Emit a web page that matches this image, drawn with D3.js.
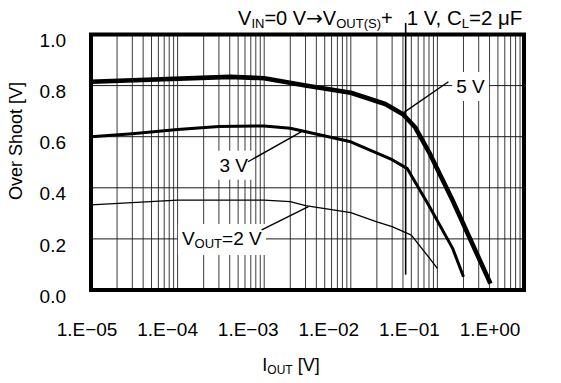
<!DOCTYPE html>
<html>
<head>
<meta charset="utf-8">
<script src="https://cdn.jsdelivr.net/npm/d3@7"></script>
<style>
  body { margin: 0; background: #fff; }
  text { font-family: Arial, "Liberation Sans", sans-serif; fill: #000; }
</style>
</head>
<body>
<svg id="chart" width="561" height="383"></svg>
<script>
// Output current ticks (log axis) and their printed labels
const currentTicks = [1e-5, 1e-4, 1e-3, 1e-2, 1e-1, 1];
const currentTickLabels = ["1.E\u221205", "1.E\u221204", "1.E\u221203", "1.E\u221202", "1.E\u221201", "1.E+00"];
const overshootTicks = [0, 0.2, 0.4, 0.6, 0.8, 1.0];
const overshootTickLabels = ["0.0", "0.2", "0.4", "0.6", "0.8", "1.0"];

// VOUT = 5 V
const current5V   = [1e-5, 4e-4, 1e-3, 3e-3, 1e-2, 2.5e-2, 4e-2, 5.5e-2, 8e-2, 0.15, 0.41];
const overshoot5V = [0.815, 0.834, 0.829, 0.80, 0.772, 0.728, 0.688, 0.638, 0.54, 0.35, 0.025];
// VOUT = 3 V
const current3V   = [1e-5, 3e-5, 1e-4, 3e-4, 1e-3, 2e-3, 1e-2, 3e-2, 4.5e-2, 8e-2, 0.15, 0.2];
const overshoot3V = [0.60, 0.612, 0.628, 0.64, 0.642, 0.633, 0.58, 0.51, 0.475, 0.33, 0.163, 0.052];
// VOUT = 2 V
const current2V   = [1e-5, 1e-4, 1e-3, 2e-3, 3e-3, 1e-2, 2e-2, 3e-2, 5e-2, 0.1];
const overshoot2V = [0.333, 0.352, 0.352, 0.346, 0.33, 0.303, 0.267, 0.248, 0.215, 0.085];

// Cursor line current
const cursorCurrent = [0.043];

const svg = d3.select("#chart");
const plotLeft = 91, plotRight = 524, plotTop = 34.5, plotBottom = 290;
const fs = 19, subFs = 13;

const x = d3.scaleLog().domain([1e-5, 1]).range([plotLeft, plotRight]);
const y = d3.scaleLinear().domain([0, 1]).range([plotBottom, plotTop]);
// tick labels sit on their own spacing under the frame
const xLabel = d3.scaleLog().domain([1e-5, 1]).range([87, 490]);

// Vertical grid: every 1..9 per decade
const gridCurrents = [];
for (let e = -5; e < 0; e++) for (let m = 1; m <= 9; m++) gridCurrents.push(m * Math.pow(10, e));
const grid = svg.append("g");
grid.selectAll("line.v").data(gridCurrents.filter(d => d > 1e-5)).join("line")
  .attr("class", "v")
  .attr("x1", d => x(d)).attr("x2", d => x(d))
  .attr("y1", y(0)).attr("y2", y(1))
  .attr("stroke", "#3a3a3a").attr("stroke-width", 1);
grid.selectAll("line.h").data(overshootTicks.filter(d => d > 0 && d < 1)).join("line")
  .attr("class", "h")
  .attr("x1", x(1e-5)).attr("x2", x(1))
  .attr("y1", d => y(d)).attr("y2", d => y(d))
  .attr("stroke", "#1a1a1a").attr("stroke-width", 1);

// Cursor line crossing the plot up to the title
const cursorX = x(cursorCurrent[0]);
svg.append("line")
  .attr("x1", cursorX).attr("x2", cursorX)
  .attr("y1", 23).attr("y2", y(0.06))
  .attr("stroke", "#000").attr("stroke-width", 1.6);

function label(g, parts, xp, yp, anchor) {
  const t = g.append("text").attr("x", xp).attr("y", yp)
    .attr("font-size", fs).attr("text-anchor", anchor);
  parts.forEach(p => {
    const ts = t.append("tspan").text(p.t);
    if (p.sub) ts.attr("font-size", subFs).attr("dy", 3);
    else if (p.after) ts.attr("dy", -3);
  });
  return t;
}

const curveLine = d3.line().x(d => x(d[0])).y(d => y(d[1]));
const series = [
  { c: current5V, v: overshoot5V, w: 4.6 },
  { c: current3V, v: overshoot3V, w: 3 },
  { c: current2V, v: overshoot2V, w: 1.3 }
];
svg.append("g").selectAll("path").data(series).join("path")
  .attr("d", s => curveLine(s.c.map((c, i) => [c, s.v[i]])))
  .attr("fill", "none").attr("stroke", "#000")
  .attr("stroke-width", s => s.w).attr("stroke-linejoin", "round");

// Annotations with white boxes hiding the grid behind the text
const ann = svg.append("g");
const annotations = [
  { parts: [{ t: "5 V" }], at: [0.165, 0.771], anchor: "start", from: [0.0404, 0.693], to: [0.134, 0.815] },
  { parts: [{ t: "3 V" }], at: [6.5e-4, 0.463], anchor: "end", from: [6.5e-4, 0.502], to: [2.7e-3, 0.62] },
  { parts: [{ t: "V" }, { t: "OUT", sub: true }, { t: "=2 V", after: true }], at: [9.35e-4, 0.176], anchor: "end", from: [9.35e-4, 0.235], to: [3.24e-3, 0.326] }
];
annotations.forEach(a => {
  const boxG = ann.append("g");
  const t = label(ann, a.parts, x(a.at[0]), y(a.at[1]), a.anchor);
  const bb = t.node().getBBox();
  boxG.append("rect").attr("x", bb.x - 4).attr("y", bb.y - 4)
    .attr("width", bb.width + 8).attr("height", bb.height + 8).attr("fill", "#fff");
  ann.append("line")
    .attr("x1", x(a.from[0])).attr("y1", y(a.from[1]))
    .attr("x2", x(a.to[0])).attr("y2", y(a.to[1]))
    .attr("stroke", "#000").attr("stroke-width", 1.4);
});

// Frame
svg.append("rect").attr("x", plotLeft).attr("y", plotTop)
  .attr("width", plotRight - plotLeft).attr("height", plotBottom - plotTop)
  .attr("fill", "none").attr("stroke", "#000").attr("stroke-width", 4);

// Y tick labels (top aligned with grid)
svg.append("g").selectAll("text").data(overshootTicks).join("text")
  .attr("x", 66).attr("y", d => y(d) + 12.6)
  .attr("text-anchor", "end").attr("font-size", fs)
  .text((d, i) => overshootTickLabels[i]);

// X tick labels
svg.append("g").selectAll("text").data(currentTicks).join("text")
  .attr("x", d => xLabel(d)).attr("y", 336)
  .attr("text-anchor", "middle").attr("font-size", fs)
  .text((d, i) => currentTickLabels[i]);

// Axis titles
const xt = svg.append("text").attr("x", 291).attr("y", 371)
  .attr("text-anchor", "middle").attr("font-size", 18);
xt.append("tspan").text("I");
xt.append("tspan").text("OUT").attr("font-size", 12).attr("dy", 3);
xt.append("tspan").text(" [V]").attr("dy", -3);

svg.append("text").attr("transform", "translate(21.5,141) rotate(-90)")
  .attr("text-anchor", "middle").attr("font-size", 18).text("Over Shoot [V]");

// Condition title, split either side of the cursor line
const tFs = 20;
const tLeft = svg.append("text").attr("x", cursorX - 13).attr("y", 25)
  .attr("text-anchor", "end").attr("font-size", tFs);
tLeft.append("tspan").text("V");
tLeft.append("tspan").text("IN").attr("font-size", subFs).attr("dy", 3);
tLeft.append("tspan").text("=0 V").attr("dy", -3);
tLeft.append("tspan").text("\u2192").attr("font-family", "DejaVu Sans").attr("font-size", 20);
tLeft.append("tspan").text("V");
tLeft.append("tspan").text("OUT(S)").attr("font-size", subFs).attr("dy", 3);
tLeft.append("tspan").text("+").attr("dy", -3);

const tRight = svg.append("text").attr("x", cursorX + 1).attr("y", 25)
  .attr("text-anchor", "start").attr("font-size", 20.5);
tRight.append("tspan").text("1 V, C");
tRight.append("tspan").text("L").attr("font-size", subFs).attr("dy", 3);
tRight.append("tspan").text("=2 \u03bcF").attr("dy", -3);
</script>
</body>
</html>
